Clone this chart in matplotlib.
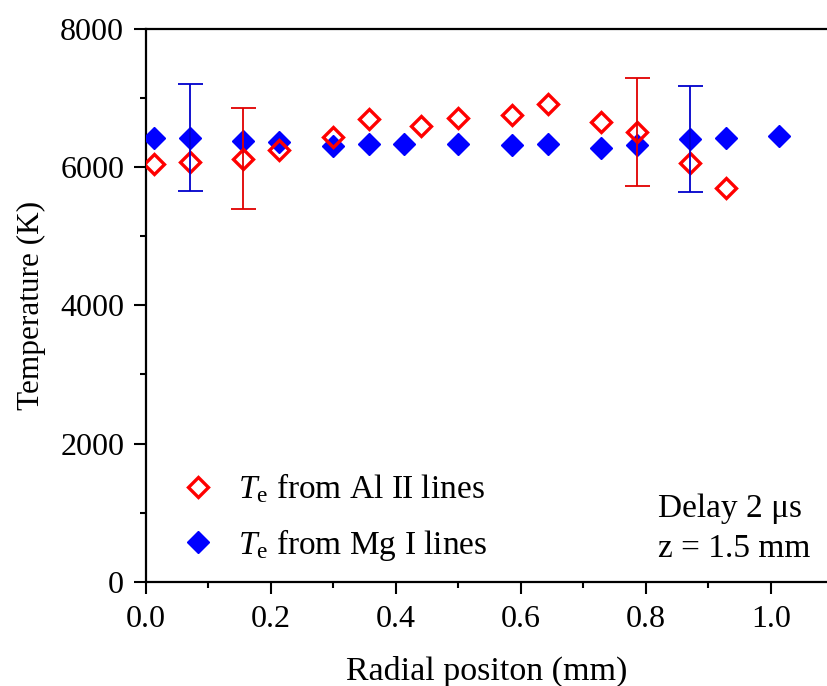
import matplotlib
matplotlib.use("Agg")
import matplotlib.pyplot as plt
from matplotlib.ticker import MultipleLocator, FormatStrFormatter
from matplotlib.lines import Line2D

plt.rcParams['font.family'] = ['Liberation Serif', 'DejaVu Serif']
plt.rcParams['mathtext.fontset'] = 'custom'
plt.rcParams['mathtext.rm'] = 'Liberation Serif'
plt.rcParams['mathtext.it'] = 'Liberation Serif:italic'

# Data
al_x = [0.014, 0.071, 0.156, 0.213, 0.300, 0.357, 0.4405, 0.499, 0.586, 0.643, 0.728, 0.786, 0.871, 0.928]
al_T = [6046, 6070, 6113, 6248, 6441, 6697, 6600, 6716, 6760, 6914, 6649, 6513, 6065, 5703]
mg_x = [0.014, 0.071, 0.156, 0.213, 0.300, 0.357, 0.414, 0.499, 0.586, 0.643, 0.728, 0.786, 0.871, 0.928, 1.014]
mg_T = [6426, 6417, 6378, 6359, 6311, 6331, 6335, 6331, 6321, 6331, 6273, 6321, 6403, 6417, 6456]

# error bars (x, value, low, high)
al_err_x = [0.156, 0.786]
al_err_T = [6113, 6513]
al_err_lo = [5390, 5732]
al_err_hi = [6861, 7295]
mg_err_x = [0.071, 0.871]
mg_err_T = [6417, 6403]
mg_err_lo = [5655, 5636]
mg_err_hi = [7199, 7179]

fig = plt.figure(figsize=(8.27, 6.86), dpi=100)
ax = fig.add_axes([0.1762, 0.152, 1.0 - 0.1762, 0.9577 - 0.152])

ax.plot(mg_x, mg_T, ls='none', marker='D', ms=11.5, color='#0000ff', mec='#0000ff', zorder=3)
ax.plot(al_x, al_T, ls='none', marker='D', ms=10.3, mfc='none', mec='#ff0000', mew=2.4, zorder=3)

ax.errorbar(al_err_x, al_err_T,
            yerr=[[t - l for t, l in zip(al_err_T, al_err_lo)], [h - t for t, h in zip(al_err_T, al_err_hi)]],
            fmt='none', ecolor='#e00000', elinewidth=1.3, capsize=9, capthick=1.3, zorder=4)
ax.errorbar(mg_err_x, mg_err_T,
            yerr=[[t - l for t, l in zip(mg_err_T, mg_err_lo)], [h - t for t, h in zip(mg_err_T, mg_err_hi)]],
            fmt='none', ecolor='#0000cc', elinewidth=1.3, capsize=9, capthick=1.3, zorder=4)

ax.set_xlim(0, 1.09)
ax.set_ylim(0, 8000)
ax.xaxis.set_major_locator(MultipleLocator(0.2))
ax.xaxis.set_minor_locator(MultipleLocator(0.1))
ax.yaxis.set_major_locator(MultipleLocator(2000))
ax.yaxis.set_minor_locator(MultipleLocator(1000))
ax.xaxis.set_major_formatter(FormatStrFormatter('%.1f'))

ax.spines['right'].set_visible(False)
for s in ['left', 'bottom', 'top']:
    ax.spines[s].set_linewidth(1.6)
ax.tick_params(which='major', direction='out', length=8.5, width=1.5, labelsize=23)
ax.tick_params(axis='y', which='major', pad=7)
ax.tick_params(axis='x', which='major', pad=8)
ax.tick_params(which='minor', direction='out', length=4.5, width=1.5)
ax.tick_params(top=False, right=False, which='both')

ax.set_xlabel('Radial positon (mm)', fontsize=24.5, labelpad=16)
ax.set_ylabel('Temperature (K)', fontsize=22.5, labelpad=10)

handles = [
    Line2D([], [], ls='none', marker='D', ms=10.3, mfc='none', mec='#ff0000', mew=2.4),
    Line2D([], [], ls='none', marker='D', ms=11.5, color='#0000ff'),
]
labels = [r'$T_{\rm e}$ from Al II lines', r'$T_{\rm e}$ from Mg I lines']
ax.legend(handles, labels, loc='lower left', bbox_to_anchor=(0.013, -0.008), frameon=False,
          fontsize=24, handletextpad=0.6, labelspacing=0.64, handlelength=1.2,
          borderaxespad=0.3)

ax.text(0.752, 0.1176, 'Delay 2 \u03bcs', transform=ax.transAxes, fontsize=24, ha='left', va='baseline')
ax.text(0.752, 0.044, 'z = 1.5 mm', transform=ax.transAxes, fontsize=24, ha='left', va='baseline')

fig.savefig('out.png', dpi=100)
